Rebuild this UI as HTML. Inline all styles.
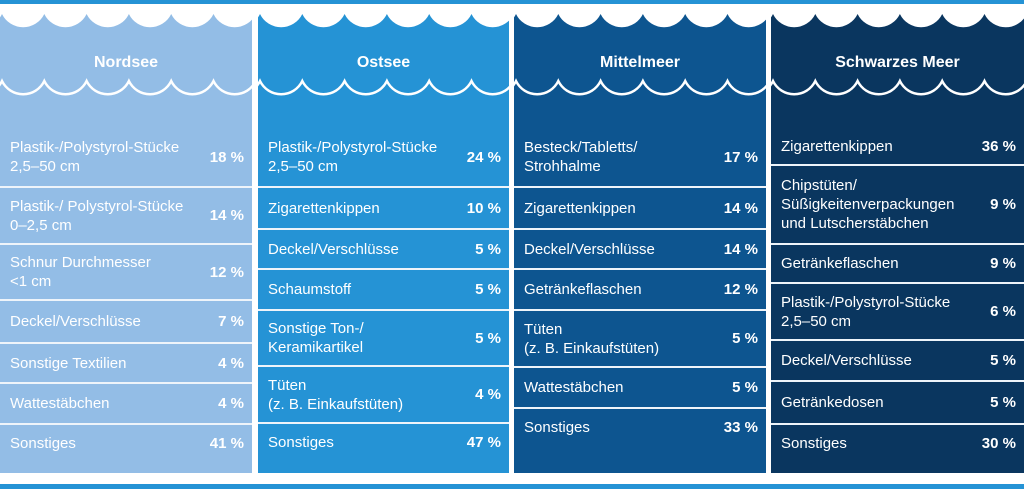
<!DOCTYPE html>
<html><head><meta charset="utf-8"><style>
*{margin:0;padding:0;box-sizing:border-box}
body{width:1024px;height:489px;background:#fff;position:relative;overflow:hidden;font-family:"Liberation Sans",sans-serif;color:#fff}
.bar{position:absolute;left:0;width:1024px;background:#2593d5}
.col{position:absolute;top:14px;height:459px}
.col svg{position:absolute;left:0;top:0}
.h{position:absolute;top:40px;left:0;right:0;text-align:center;font-weight:bold;font-size:16px}
.r{position:absolute;left:0;right:0;display:flex;align-items:center;justify-content:space-between;padding:0 8px 0 10px;font-size:15px;line-height:19px}
.r b{font-weight:bold;font-size:15px;white-space:nowrap}
.last{align-items:flex-start;padding-top:9px}
.sep{position:absolute;left:0;right:0;height:2px;background:#eef4fa}
</style></head><body>
<div class="bar" style="top:0;height:4px"></div>
<div class="bar" style="top:484px;height:5px"></div>
<div id="cols"></div>
<script>
const cols=[
 {x:0,w:252,c:'#93bde6',t:'Nordsee',rows:[[128,186,'Plastik-/Polystyrol-Stücke<br>2,5–50 cm','18 %'],[188,243,'Plastik-/ Polystyrol-Stücke<br>0–2,5 cm','14 %'],[245,299,'Schnur Durchmesser<br>&lt;1 cm','12 %'],[301,342,'Deckel/Verschlüsse','7 %'],[344,382,'Sonstige Textilien','4 %'],[384,423,'Wattestäbchen','4 %'],[425,473,'Sonstiges','41 %']]},
 {x:258,w:251,c:'#2593d5',t:'Ostsee',rows:[[128,186,'Plastik-/Polystyrol-Stücke<br>2,5–50 cm','24 %'],[188,228,'Zigarettenkippen','10 %'],[230,268,'Deckel/Verschlüsse','5 %'],[270,309,'Schaumstoff','5 %'],[311,365,'Sonstige Ton-/<br>Keramikartikel','5 %'],[367,422,'Tüten<br>(z. B. Einkaufstüten)','4 %'],[424,473,'Sonstiges','47 %']]},
 {x:514,w:252,c:'#0d5590',t:'Mittelmeer',rows:[[128,186,'Besteck/Tabletts/<br>Strohhalme','17 %'],[188,228,'Zigarettenkippen','14 %'],[230,268,'Deckel/Verschlüsse','14 %'],[270,309,'Getränkeflaschen','12 %'],[311,366,'Tüten<br>(z. B. Einkaufstüten)','5 %'],[368,407,'Wattestäbchen','5 %'],[409,473,'Sonstiges','33 %']]},
 {x:771,w:253,c:'#0a365f',t:'Schwarzes Meer',rows:[[128,164,'Zigarettenkippen','36 %'],[166,243,'Chipstüten/<br>Süßigkeitenverpackungen<br>und Lutscherstäbchen','9 %'],[245,282,'Getränkeflaschen','9 %'],[284,339,'Plastik-/Polystyrol-Stücke<br>2,5–50 cm','6 %'],[341,380,'Deckel/Verschlüsse','5 %'],[382,423,'Getränkedosen','5 %'],[425,473,'Sonstiges','30 %']]}
];
let h='';
for(const c of cols){
 let top='M0 0 ',line='';
 const p=42.3;
 top+='L-2 0 ';
 let s=`M${-p+2} 67 `,t=`M${-p+2} 0 L${-p+2} 0 `;
 for(let k=0;k<8;k++){const x0=-p+2+k*p,x1=x0+p;s+=`A23.5 23.5 0 0 0 ${x1} 67 `;t+=`A23.5 23.5 0 0 0 ${x1} 0 `;}
 t+=`L${c.w+60} -20 L-60 -20 Z`;
 h+=`<div class="col" style="left:${c.x}px;width:${c.w}px;background:${c.c}"><svg width="${c.w}" height="100"><path d="${t}" fill="#fff"/><path d="${s}" fill="none" stroke="#fff" stroke-width="2.5"/></svg><div class="h">${c.t}</div>`;
 c.rows.forEach((r,i)=>{
  const last=i==c.rows.length-1;
  h+=`<div class="r${last?' last':''}" style="top:${r[0]-14}px;height:${r[1]-r[0]}px"><span>${r[2]}</span><b>${r[3]}</b></div>`;
  if(!last)h+=`<div class="sep" style="top:${r[1]-14}px"></div>`;
 });
 h+='</div>';
}
document.getElementById('cols').innerHTML=h;
</script>
</body></html>
